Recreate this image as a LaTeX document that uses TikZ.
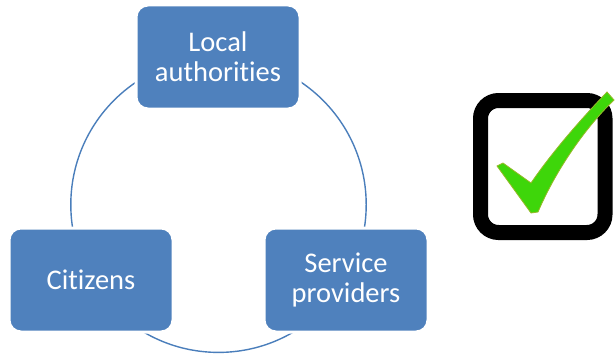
\documentclass[tikz,border=0pt]{standalone}
\usepackage{fontspec}
\setmainfont[Ligatures=NoCommon]{Carlito}
\definecolor{boxblue}{RGB}{79,129,189}
\definecolor{ringblue}{RGB}{74,126,187}
\definecolor{checkgreen}{RGB}{62,214,10}
\definecolor{checkdark}{RGB}{150,185,40}
\tikzset{
  partbox/.style={rounded corners=12pt, fill=boxblue, draw=white, line width=3pt,
    minimum width=164pt, minimum height=104pt, text=white, align=center,
    font=\fontsize{28.5}{30}\selectfont, inner sep=0pt},
  ring/.style={draw=ringblue, line width=1.4pt}
}
\begin{document}
\begin{tikzpicture}[x=1pt,y=-1pt]
\useasboundingbox (0,0) rectangle (615,353);
\coordinate (ctr) at (218.5,204.7);
\draw[ring] (ctr) circle[radius=147.7];
\node[partbox] (local) at (218,57) {Local\\authorities};
\node[partbox] (cit) at (91,280) {Citizens};
\node[partbox] (serv) at (346,280) {Service\\providers};
% checkbox
\draw[line width=15pt, rounded corners=18pt] (480.5,100.5) rectangle (605,232.5);
\fill[checkgreen, draw=checkdark, line width=0.8pt]
  (497,166) -- (503,163) -- (531,183)
  .. controls (555,148) and (585,115) .. (607,92)
  -- (614,100)
  .. controls (585,128) and (556,170) .. (538,212)
  -- (531,213) -- cycle;
\end{tikzpicture}
\end{document}
